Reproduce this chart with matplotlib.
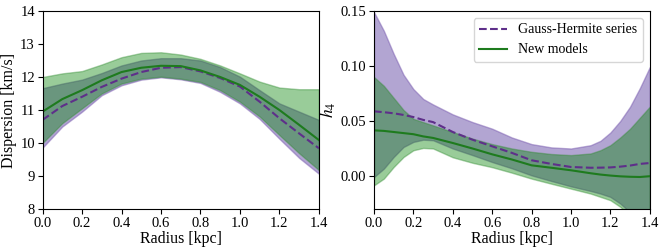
import numpy as np
import matplotlib
matplotlib.use("Agg")
import matplotlib.pyplot as plt

plt.rcParams["font.family"] = ["Liberation Serif", "DejaVu Serif"]
plt.rcParams["mathtext.fontset"] = "stix"

# radius grid [kpc] for the dispersion panel
radius = [0.0, 0.1, 0.2, 0.3, 0.4, 0.5, 0.6, 0.7, 0.8, 0.9, 1.0, 1.1, 1.2, 1.3, 1.4]

# dispersion [km/s]
gh_disp = [10.7, 11.12, 11.4, 11.7, 11.95, 12.15, 12.28, 12.3, 12.17, 11.97, 11.71, 11.25, 10.75, 10.29, 9.84]
gh_disp_hi = [11.66, 11.8, 11.92, 12.12, 12.35, 12.5, 12.57, 12.57, 12.5, 12.3, 12.01, 11.6, 11.2, 10.95, 10.7]
gh_disp_lo = [9.86, 10.5, 10.95, 11.45, 11.75, 11.92, 11.99, 11.93, 11.82, 11.55, 11.2, 10.73, 10.13, 9.55, 9.07]

new_disp = [10.95, 11.33, 11.6, 11.9, 12.15, 12.28, 12.34, 12.33, 12.2, 12.0, 11.76, 11.4, 11.0, 10.55, 10.09]
new_disp_hi = [12.0, 12.11, 12.18, 12.38, 12.6, 12.73, 12.75, 12.68, 12.55, 12.35, 12.11, 11.86, 11.68, 11.63, 11.63]
new_disp_lo = [10.0, 10.6, 11.05, 11.5, 11.8, 11.95, 12.01, 11.95, 11.85, 11.6, 11.25, 10.8, 10.24, 9.69, 9.18]

# radius grid [kpc] for the h4 panel
radius_h4 = [0.0, 0.05, 0.1, 0.15, 0.2, 0.25, 0.3, 0.4, 0.5, 0.6, 0.7, 0.8, 0.9, 1.0,
             1.1, 1.15, 1.2, 1.25, 1.3, 1.35, 1.4]

gh_h4 = [0.0588, 0.058, 0.057, 0.0555, 0.0536, 0.051, 0.049, 0.040, 0.033, 0.027, 0.021,
         0.0143, 0.011, 0.0082, 0.0075, 0.0076, 0.0078, 0.0085, 0.0095, 0.011, 0.0118]
gh_h4_hi = [0.149, 0.132, 0.111, 0.092, 0.079, 0.070, 0.065, 0.056, 0.049, 0.043, 0.035,
            0.029, 0.026, 0.025, 0.028, 0.032, 0.0395, 0.050, 0.063, 0.080, 0.099]
gh_h4_lo = [-0.001, 0.0067, 0.0173, 0.0264, 0.031, 0.033, 0.0325, 0.025, 0.019, 0.0127, 0.007,
            0.0006, -0.0045, -0.0094, -0.0136, -0.016, -0.019, -0.025, -0.033, -0.045, -0.06]

new_h4 = [0.0415, 0.041, 0.040, 0.039, 0.038, 0.036, 0.0346, 0.030, 0.025, 0.0197, 0.015,
          0.0097, 0.0075, 0.0052, 0.0025, 0.0013, 0.0004, -0.0003, -0.0007, -0.0009, -0.0002]
new_h4_hi = [0.090, 0.082, 0.071, 0.060, 0.052, 0.049, 0.046, 0.040, 0.034, 0.029, 0.025,
             0.022, 0.020, 0.019, 0.0205, 0.0235, 0.028, 0.035, 0.043, 0.053, 0.063]
new_h4_lo = [-0.0085, -0.0024, 0.0082, 0.0173, 0.0234, 0.0255, 0.025, 0.017, 0.012, 0.008, 0.003,
             -0.0024, -0.007, -0.0115, -0.016, -0.019, -0.022, -0.028, -0.036, -0.046, -0.058]

xticks = [0.0, 0.2, 0.4, 0.6, 0.8, 1.0, 1.2, 1.4]

purple = "#5e2f8a"
green = "#1e7b1e"

fig = plt.figure(figsize=(6.65, 2.5), dpi=100)
ax1 = fig.add_axes([0.064, 0.164, 0.4155, 0.792])
ax2 = fig.add_axes([0.5624, 0.164, 0.4147, 0.792])


def draw(ax, r, gh, gh_hi, gh_lo, new, new_hi, new_lo):
    ax.fill_between(r, gh_lo, gh_hi, facecolor="#664ca6", alpha=0.5,
                    edgecolor="#7a5cb0", linewidth=1.0)
    ax.fill_between(r, new_lo, new_hi, facecolor="green", alpha=0.4,
                    edgecolor="#2e8b2e", linewidth=1.0)
    ax.plot(r, gh, "--", color=purple, lw=1.5, label="Gauss-Hermite series")
    ax.plot(r, new, "-", color=green, lw=1.5, label="New models")
    ax.set_xlim(0, 1.4)
    ax.set_xticks(xticks)
    ax.set_xticklabels([f"{t:.1f}" for t in xticks])
    ax.set_xlabel("Radius [kpc]", fontsize=11.5, labelpad=1)
    ax.tick_params(labelsize=10.5, pad=2)


draw(ax1, radius, gh_disp, gh_disp_hi, gh_disp_lo, new_disp, new_disp_hi, new_disp_lo)
ax1.set_ylim(8, 14)
ax1.set_ylabel("Dispersion [km/s]", fontsize=11.5, labelpad=2)

draw(ax2, radius_h4, gh_h4, gh_h4_hi, gh_h4_lo, new_h4, new_h4_hi, new_h4_lo)
ax2.set_ylim(-0.03, 0.15)
ax2.set_yticks([0.0, 0.05, 0.10, 0.15])
ax2.set_yticklabels(["0.00", "0.05", "0.10", "0.15"])
ax2.set_ylabel("$h_4$", fontsize=12.5, labelpad=2)
ax2.legend(loc="upper right", fontsize=10)

fig.savefig("out.png", dpi=100)
